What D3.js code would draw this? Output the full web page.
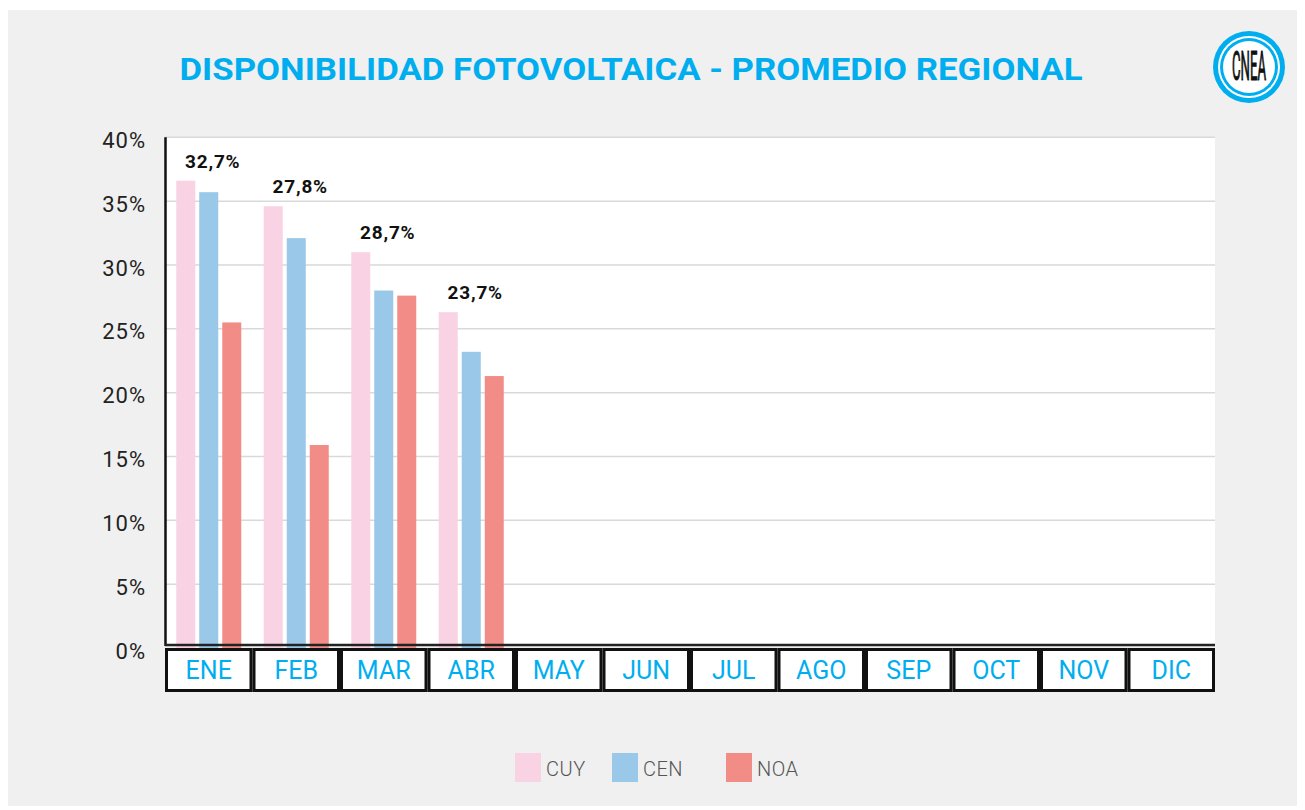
<!DOCTYPE html>
<html>
<head>
<meta charset="utf-8">
<script src="https://cdn.jsdelivr.net/npm/d3@7"></script>
<style>
  html, body { margin: 0; padding: 0; background: #fff; }
  svg { display: block; font-family: Roboto, "DejaVu Sans", sans-serif; }
</style>
</head>
<body>
<svg id="chart" width="1305" height="810"></svg>
<script>
// DATA
const months = ['ENE', 'FEB', 'MAR', 'ABR', 'MAY', 'JUN', 'JUL', 'AGO', 'SEP', 'OCT', 'NOV', 'DIC'];
const series = ['CUY', 'CEN', 'NOA'];
const cuy = [36.6, 34.6, 31.0, 26.3];
const cen = [35.7, 32.1, 28.0, 23.2];
const noa = [25.5, 15.9, 27.6, 21.3];
const avgLabels = ['32,7%', '27,8%', '28,7%', '23,7%'];
const yTicks = [0, 5, 10, 15, 20, 25, 30, 35, 40];
const colors = {CUY: '#f9d3e3', CEN: '#99c8e8', NOA: '#f18d86'};

let rows = cuy.map((d, i) => ({month: months[i], CUY: cuy[i], CEN: cen[i], NOA: noa[i], label: avgLabels[i]}));

const svg = d3.select('#chart');

// background
svg.append('rect')
  .attr('x', 8).attr('y', 10)
  .attr('width', 1289).attr('height', 796)
  .attr('fill', '#f0f0f0');

// title
svg.append('text')
  .attr('x', 631).attr('y', 80)
  .attr('text-anchor', 'middle')
  .attr('font-size', 32)
  .attr('font-weight', 'bold')
  .attr('fill', '#00aeef')
  .attr('textLength', 903)
  .attr('lengthAdjust', 'spacingAndGlyphs')
  .text('DISPONIBILIDAD FOTOVOLTAICA - PROMEDIO REGIONAL');

// logo
let logo = svg.append('g').attr('transform', 'translate(1249,67)');
logo.append('circle').attr('r', 36).attr('fill', '#00aeef');
logo.append('circle').attr('r', 31).attr('fill', '#fff');
logo.append('circle').attr('r', 29).attr('fill', '#00aeef');
logo.append('circle').attr('r', 26).attr('fill', '#fff');
logo.append('text')
  .attr('transform', 'scale(0.55,1.7)')
  .attr('y', 7.5)
  .attr('text-anchor', 'middle')
  .attr('font-size', 24)
  .attr('fill', '#111')
  .attr('stroke', '#111')
  .attr('stroke-width', 0.6)
  .text('CNEA');

// scales
let x0 = d3.scaleBand()
  .domain(months)
  .range([165, 1215]);

let x1 = d3.scaleBand()
  .domain(series)
  .range([11.25, 76.25])
  .paddingInner(4 / 23);

let y = d3.scaleLinear()
  .domain([0, 40])
  .range([648, 137.3]);

// plot area
svg.append('rect')
  .attr('x', 165).attr('y', y(40))
  .attr('width', 1050).attr('height', 645 - y(40))
  .attr('fill', '#fff');

// gridlines
svg.append('g')
  .attr('class', 'grid')
  .selectAll('line')
  .data(yTicks.filter(d => d > 0))
  .enter().append('line')
  .attr('x1', 165).attr('x2', 1215)
  .attr('y1', d => y(d)).attr('y2', d => y(d))
  .attr('stroke', '#d9d9d9')
  .attr('stroke-width', 1.5);

// y axis labels
svg.append('g')
  .attr('class', 'y-axis')
  .attr('transform', 'translate(146,3)')
  .call(d3.axisLeft(y).tickValues(yTicks).tickSize(0).tickPadding(0).tickFormat(d => d + '%'))
  .call(g => g.select('.domain').remove())
  .call(g => g.selectAll('.tick text')
    .attr('font-family', 'Roboto, sans-serif')
    .attr('font-size', 22)
    .attr('letter-spacing', 1)
    .attr('fill', '#222'));

// bars
svg.append('g')
  .attr('class', 'bars')
  .selectAll('g')
  .data(rows)
  .enter().append('g')
  .attr('transform', d => `translate(${x0(d.month)},0)`)
  .each(function(d) {
    d3.select(this).selectAll('rect')
      .data(series.map(s => ({key: s, value: d[s]})))
      .enter().append('rect')
      .attr('x', s => x1(s.key))
      .attr('width', x1.bandwidth())
      .attr('y', s => y(s.value))
      .attr('height', s => y(0) - y(s.value))
      .attr('fill', s => colors[s.key]);
  });

// value labels above groups
svg.append('g')
  .attr('class', 'labels')
  .selectAll('text')
  .data(rows)
  .enter().append('text')
  .attr('x', d => x0(d.month) + x0.bandwidth() / 2 + 4)
  .attr('y', d => y(d3.max(series, s => d[s])) - 13)
  .attr('text-anchor', 'middle')
  .attr('font-size', 19)
  .attr('letter-spacing', 0.8)
  .attr('font-weight', 'bold')
  .attr('fill', '#111')
  .text(d => d.label);

// axis lines
svg.append('line')
  .attr('x1', 165.5).attr('x2', 165.5)
  .attr('y1', y(40)).attr('y2', 646)
  .attr('stroke', '#111').attr('stroke-width', 2.5);
svg.append('line')
  .attr('x1', 165).attr('x2', 1215)
  .attr('y1', 645).attr('y2', 645)
  .attr('stroke', '#222').attr('stroke-width', 2.5);

// month boxes
let boxes = svg.append('g')
  .attr('class', 'x-axis')
  .selectAll('g')
  .data(months)
  .enter().append('g')
  .attr('transform', d => `translate(${x0(d)},0)`);

boxes.append('rect')
  .attr('x', 1.5).attr('y', 649.5)
  .attr('width', x0.bandwidth() - 3).attr('height', 41)
  .attr('fill', '#fff')
  .attr('stroke', '#111')
  .attr('stroke-width', 3);

boxes.append('text')
  .attr('x', x0.bandwidth() / 2)
  .attr('y', 679)
  .attr('text-anchor', 'middle')
  .attr('font-size', 25)
  .attr('fill', '#00aeef')
  .text(d => d);

// legend
const legendX = {CUY: 515, CEN: 612, NOA: 726};
let legend = svg.append('g')
  .attr('class', 'legend')
  .selectAll('g')
  .data(series)
  .enter().append('g')
  .attr('transform', d => `translate(${legendX[d]},753)`);

legend.append('rect')
  .attr('width', 26).attr('height', 29)
  .attr('fill', d => colors[d]);

legend.append('text')
  .attr('x', 31).attr('y', 23)
  .attr('font-size', 20)
  .attr('font-weight', 300)
  .attr('letter-spacing', 0.5)
  .attr('fill', '#555')
  .text(d => d);
</script>
</body>
</html>
